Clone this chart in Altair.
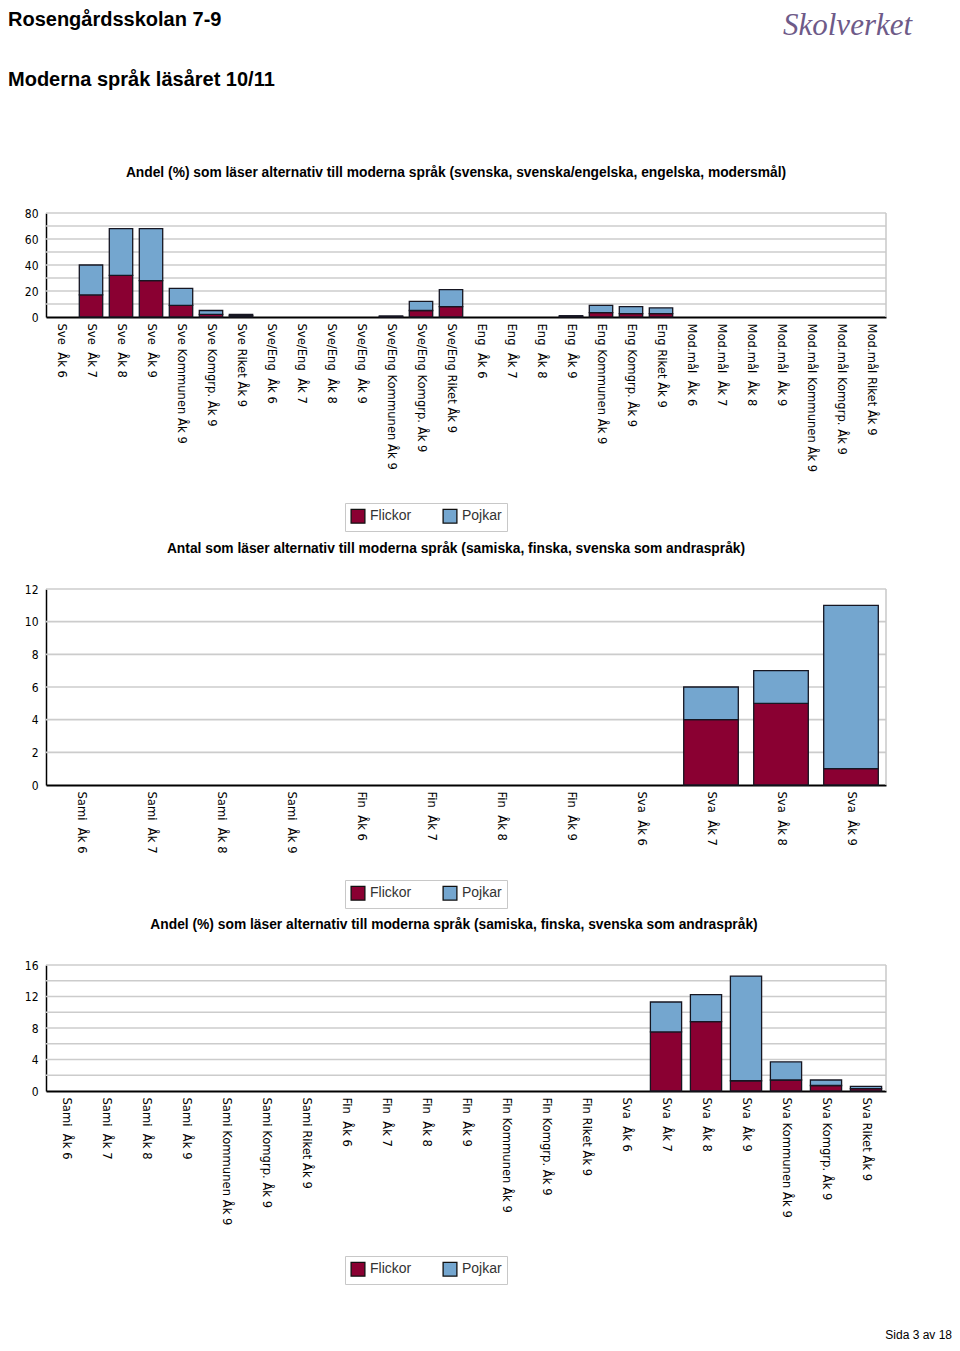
import altair as alt
import pandas as pd

W, H = 944, 1335
X0, X1 = 38, 878  # plot area left/right (chart coords)

page_title = "Rosengårdsskolan 7-9"
page_subtitle = "Moderna språk läsåret 10/11"
logo_text = "Skolverket"
page_footer = "Sida 3 av 18"

series = ["Flickor", "Pojkar"]
colors = ["#8A0032", "#74A6CF"]

# ---------- Chart 1 ----------
title1 = "Andel (%) som läser alternativ till moderna språk (svenska, svenska/engelska, engelska, modersmål)"
cats1 = [
    "Sve\u00a0 Åk 6", "Sve\u00a0 Åk 7", "Sve\u00a0 Åk 8", "Sve\u00a0 Åk 9",
    "Sve Kommunen Åk 9", "Sve Komgrp. Åk 9", "Sve Riket Åk 9",
    "Sve/Eng\u00a0 Åk 6", "Sve/Eng\u00a0 Åk 7", "Sve/Eng\u00a0 Åk 8", "Sve/Eng\u00a0 Åk 9",
    "Sve/Eng Kommunen Åk 9", "Sve/Eng Komgrp. Åk 9", "Sve/Eng Riket Åk 9",
    "Eng\u00a0 Åk 6", "Eng\u00a0 Åk 7", "Eng\u00a0 Åk 8", "Eng\u00a0 Åk 9",
    "Eng Kommunen Åk 9", "Eng Komgrp. Åk 9", "Eng Riket Åk 9",
    "Mod.mål\u00a0 Åk 6", "Mod.mål\u00a0 Åk 7", "Mod.mål\u00a0 Åk 8", "Mod.mål\u00a0 Åk 9",
    "Mod.mål Kommunen Åk 9", "Mod.mål Komgrp. Åk 9", "Mod.mål Riket Åk 9",
]
flickor1 = [0, 17, 32, 28, 9, 2, 1, 0, 0, 0, 0, 0.4, 5, 8, 0, 0, 0, 0.5, 3.4, 2.6, 2.6, 0, 0, 0, 0, 0, 0, 0]
pojkar1 = [0, 23, 36, 40, 13, 3, 1, 0, 0, 0, 0, 0.4, 7, 13, 0, 0, 0, 0.5, 5.6, 5.4, 4.4, 0, 0, 0, 0, 0, 0, 0]
yticks1 = [0, 20, 40, 60, 80]
ygrid1 = [10, 20, 30, 40, 50, 60, 70, 80]

# ---------- Chart 2 ----------
title2 = "Antal som läser alternativ till moderna språk (samiska, finska, svenska som andraspråk)"
cats2 = [
    "Sami\u00a0 Åk 6", "Sami\u00a0 Åk 7", "Sami\u00a0 Åk 8", "Sami\u00a0 Åk 9",
    "Fin\u00a0 Åk 6", "Fin\u00a0 Åk 7", "Fin\u00a0 Åk 8", "Fin\u00a0 Åk 9",
    "Sva\u00a0 Åk 6", "Sva\u00a0 Åk 7", "Sva\u00a0 Åk 8", "Sva\u00a0 Åk 9",
]
flickor2 = [0, 0, 0, 0, 0, 0, 0, 0, 0, 4, 5, 1]
pojkar2 = [0, 0, 0, 0, 0, 0, 0, 0, 0, 2, 2, 10]
yticks2 = [0, 2, 4, 6, 8, 10, 12]
ygrid2 = [2, 4, 6, 8, 10, 12]

# ---------- Chart 3 ----------
title3 = "Andel (%) som läser alternativ till moderna språk (samiska, finska, svenska som andraspråk)"
cats3 = [
    "Sami\u00a0 Åk 6", "Sami\u00a0 Åk 7", "Sami\u00a0 Åk 8", "Sami\u00a0 Åk 9",
    "Sami Kommunen Åk 9", "Sami Komgrp. Åk 9", "Sami Riket Åk 9",
    "Fin\u00a0 Åk 6", "Fin\u00a0 Åk 7", "Fin\u00a0 Åk 8", "Fin\u00a0 Åk 9",
    "Fin Kommunen Åk 9", "Fin Komgrp. Åk 9", "Fin Riket Åk 9",
    "Sva\u00a0 Åk 6", "Sva\u00a0 Åk 7", "Sva\u00a0 Åk 8", "Sva\u00a0 Åk 9",
    "Sva Kommunen Åk 9", "Sva Komgrp. Åk 9", "Sva Riket Åk 9",
]
flickor3 = [0, 0, 0, 0, 0, 0, 0, 0, 0, 0, 0, 0, 0, 0, 0, 7.5, 8.8, 1.3, 1.4, 0.7, 0.3]
pojkar3 = [0, 0, 0, 0, 0, 0, 0, 0, 0, 0, 0, 0, 0, 0, 0, 3.8, 3.45, 13.3, 2.3, 0.7, 0.3]
yticks3 = [0, 4, 8, 12, 16]
ygrid3 = [2, 4, 6, 8, 10, 12, 14, 16]

XFONT = "DejaVu Sans"
YFONT = "DejaVu Sans Condensed, Liberation Sans Narrow, DejaVu Sans"


def panel(cats, flick, pojk, ymax, ticks, grid, top, bottom, legend_y):
    n = len(cats)
    df = pd.DataFrame({
        "kat": cats * 2,
        "kon": [series[0]] * n + [series[1]] * n,
        "ord": [0] * n + [1] * n,
        "v": list(flick) + list(pojk),
    })
    xs = alt.Scale(domain=cats, range=[X0, X1], paddingInner=0.22, paddingOuter=0.11)
    ys = alt.Scale(domain=[0, ymax], range=[bottom, top], nice=False, zero=True)
    yaxis = alt.Axis(
        orient="left", offset=-X0, title=None, values=ticks, grid=False,
        ticks=False, labelPadding=8, labelFont=YFONT, labelFontSize=12,
        labelColor="#000", domainColor="#000", domainWidth=1.5,
    )

    gridr = alt.Chart(pd.DataFrame({"v": grid})).mark_rule(
        color="#cccccc", strokeWidth=1.6
    ).encode(
        y=alt.Y("v:Q", scale=ys, axis=yaxis),
        x=alt.value(X0), x2=alt.value(X1),
    )
    border = alt.Chart(pd.DataFrame({"v": [0], "b": [ymax]})).mark_rule(
        color="#c8c8c8", strokeWidth=1.5
    ).encode(
        y=alt.Y("v:Q", scale=ys, axis=yaxis), y2="b:Q", x=alt.value(X1),
    )
    bars = alt.Chart(df).transform_filter("datum.v > 0").mark_bar(
        stroke="#161622", strokeWidth=1.3
    ).encode(
        x=alt.X("kat:N", sort=cats, scale=xs, axis=alt.Axis(
            orient="bottom", offset=bottom - H, title=None, labelAngle=90,
            labelAlign="left", labelBaseline="middle", ticks=False, labelPadding=6,
            labelFont=XFONT, labelFontSize=11.6, labelColor="#000", labelLimit=300,
            domainColor="#000", domainWidth=1.8, grid=False,
        )),
        y=alt.Y("v:Q", stack="zero", scale=ys, axis=yaxis),
        color=alt.Color("kon:N", scale=alt.Scale(domain=series, range=colors), legend=alt.Legend(
            orient="none", legendX=337, legendY=legend_y, direction="horizontal", title=None,
            symbolType="square", symbolSize=190, symbolStrokeColor="#111", symbolStrokeWidth=1.3,
            labelFont="Liberation Sans", labelFontSize=14, labelColor="#333", labelOffset=4,
            labelExpr="datum.label == 'Pojkar' ? datum.label + '\u00a0\u00a0\u00a0' : datum.label",
            columnPadding=28, padding=5, strokeColor="#c8c8c8", fillColor="#ffffff",
        )),
        order=alt.Order("ord:Q"),
    )
    return alt.layer(gridr, border, bars)


def text(txt, x, y, size, weight="bold", align="left", baseline="alphabetic",
         font="Liberation Sans", color="#000", style="normal"):
    return alt.Chart(pd.DataFrame({"t": [txt]})).mark_text(
        align=align, baseline=baseline, fontSize=size, fontWeight=weight,
        font=font, color=color, fontStyle=style,
    ).encode(text="t:N", x=alt.value(x), y=alt.value(y))


p1 = panel(cats1, flickor1, pojkar1, 80, yticks1, ygrid1, 205, 309, 495)
p2 = panel(cats2, flickor2, pojkar2, 12, yticks2, ygrid2, 581, 777, 872)
p3 = panel(cats3, flickor3, pojkar3, 16, yticks3, ygrid3, 957, 1083, 1248)

texts = [
    text(page_title, 0, 18, 20),
    text(page_subtitle, 0, 78, 20),
    text(logo_text, 775, 27, 31, weight="normal", font="Liberation Serif",
         color="#6E5A88", style="italic"),
    text(title1, 448, 165, 13.8, align="center", baseline="middle"),
    text(title2, 448, 541, 13.8, align="center", baseline="middle"),
    text(title3, 446, 917, 13.8, align="center", baseline="middle"),
    text(page_footer, 944, 1331, 12, weight="normal", align="right"),
]

chart = alt.layer(*texts, p1, p2, p3).resolve_scale(
    x="independent", y="independent", color="independent"
).resolve_axis(
    x="independent", y="independent"
).resolve_legend(
    color="independent"
).properties(
    width=W, height=H, autosize=alt.AutoSizeParams(type="none"), padding=0,
).configure_view(stroke=None)

chart.save("out.html", embed_options={"renderer": "svg", "actions": False})
